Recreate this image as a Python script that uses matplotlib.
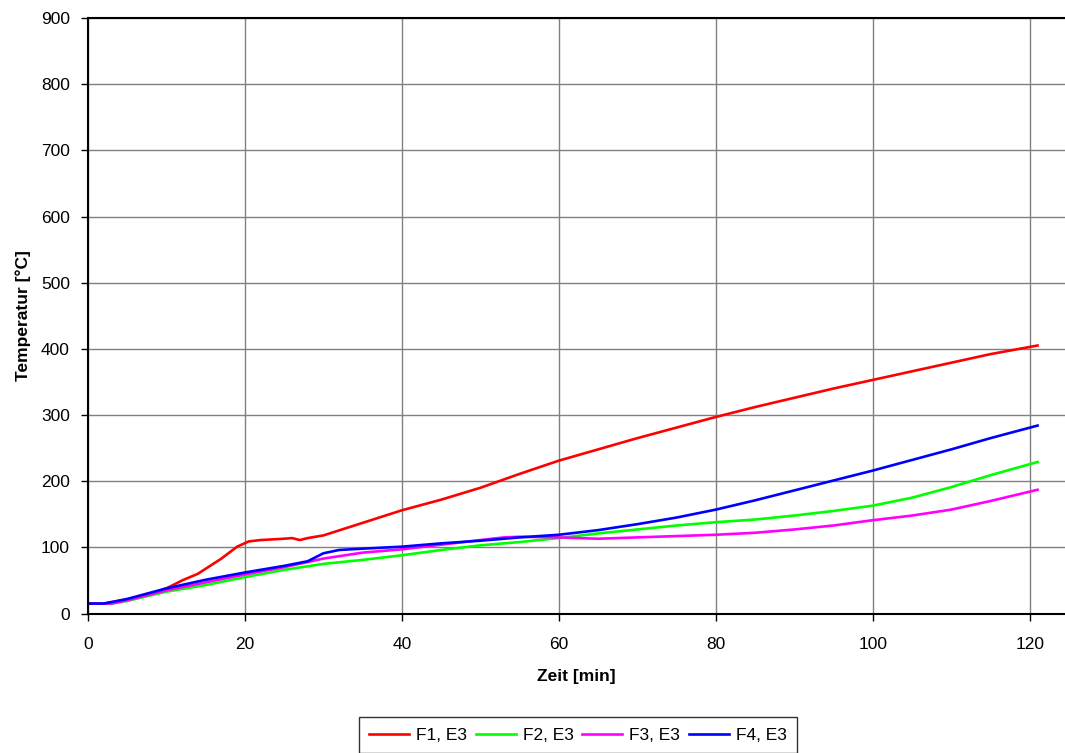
import matplotlib
matplotlib.use("Agg")
import matplotlib.pyplot as plt

plt.rcParams['font.family'] = ['Liberation Sans', 'DejaVu Sans']

# Data (time in min, temperature in °C)
t_f1 = [0, 2, 5, 8, 10, 12, 14, 17, 19, 20.5, 22, 25, 26, 27, 28, 30, 35, 40, 45, 50,
        55, 60, 65, 70, 75, 80, 85, 90, 95, 100, 105, 110, 115, 121]
f1 = [15, 15, 21, 30, 38, 50, 60, 83, 101, 109, 111, 113, 114, 111, 114, 118, 137, 156, 172, 190,
      211, 231, 248, 265, 281, 297, 312, 326, 340, 353, 366, 379, 392, 405]

t_f2 = [0, 3, 5, 10, 15, 20, 25, 30, 35, 40, 45, 50, 55, 60, 65, 70, 75, 80, 85, 90,
        95, 100, 105, 110, 115, 121]
f2 = [15, 15, 19, 33, 43, 55, 66, 75, 81, 88, 96, 103, 108, 114, 121, 127, 133, 138, 142, 148,
      155, 163, 175, 191, 209, 229]

t_f3 = [0, 3, 5, 10, 15, 20, 25, 30, 35, 40, 45, 50, 53, 55, 60, 65, 70, 75, 80, 85,
        90, 95, 100, 105, 110, 115, 121]
f3 = [15, 15, 20, 35, 47, 59, 70, 83, 92, 97, 104, 111, 115, 116, 115, 113, 115, 117, 119, 122,
      127, 133, 141, 148, 157, 170, 187]

t_f4 = [0, 2, 5, 10, 15, 20, 25, 28, 30, 32, 35, 40, 45, 50, 55, 60, 65, 70, 75, 80,
        85, 90, 95, 100, 105, 110, 115, 121]
f4 = [15, 15, 22, 38, 51, 62, 72, 79, 91, 96, 98, 101, 106, 110, 115, 119, 126, 135, 145, 157,
      171, 186, 201, 216, 232, 248, 265, 284]

labels = ["F1, E3", "F2, E3", "F3, E3", "F4, E3"]
colors = ["#FF0000", "#00FF00", "#FF00FF", "#0000FF"]

x_ticks = [0, 20, 40, 60, 80, 100, 120]
y_ticks = [0, 100, 200, 300, 400, 500, 600, 700, 800, 900]

fig = plt.figure(figsize=(10.65, 7.53), dpi=100)
ax = fig.add_axes([88 / 1065, 1 - 613.5 / 753, (1065 - 88) / 1065, (613.5 - 18) / 753])

series = [(t_f1, f1), (t_f2, f2), (t_f3, f3), (t_f4, f4)]
for (t, v), lab, c in zip(series, labels, colors):
    ax.plot(t, v, color=c, lw=1.9, label=lab)

ax.set_xlim(0, 124.5)
ax.set_ylim(0, 900)
ax.set_xticks(x_ticks)
ax.set_yticks(y_ticks)
ax.grid(True, color="#808080", lw=1)
ax.set_axisbelow(True)
ax.spines["right"].set_visible(False)
for s in ["left", "bottom", "top"]:
    ax.spines[s].set_linewidth(1.5)
    ax.spines[s].set_color("black")
ax.tick_params(axis="both", direction="out", length=5, width=1, labelsize=12.5, colors="black")
ax.tick_params(axis="x", pad=12)
ax.tick_params(axis="y", pad=8)

ax.set_xlabel("Zeit [min]", fontsize=12.5, fontweight="bold", labelpad=12)
ax.set_ylabel("Temperatur [°C]", fontsize=12.5, fontweight="bold", labelpad=7)

leg = fig.legend(loc="center", bbox_to_anchor=(578 / 1065, 1 - 735 / 753), ncol=4,
                 fontsize=12.5, frameon=True, fancybox=False, edgecolor="black",
                 handlelength=2.3, columnspacing=0.5, handletextpad=0.4, borderpad=0.6,
                 borderaxespad=0)
leg.get_frame().set_linewidth(1)

fig.savefig("out.png", dpi=100)
